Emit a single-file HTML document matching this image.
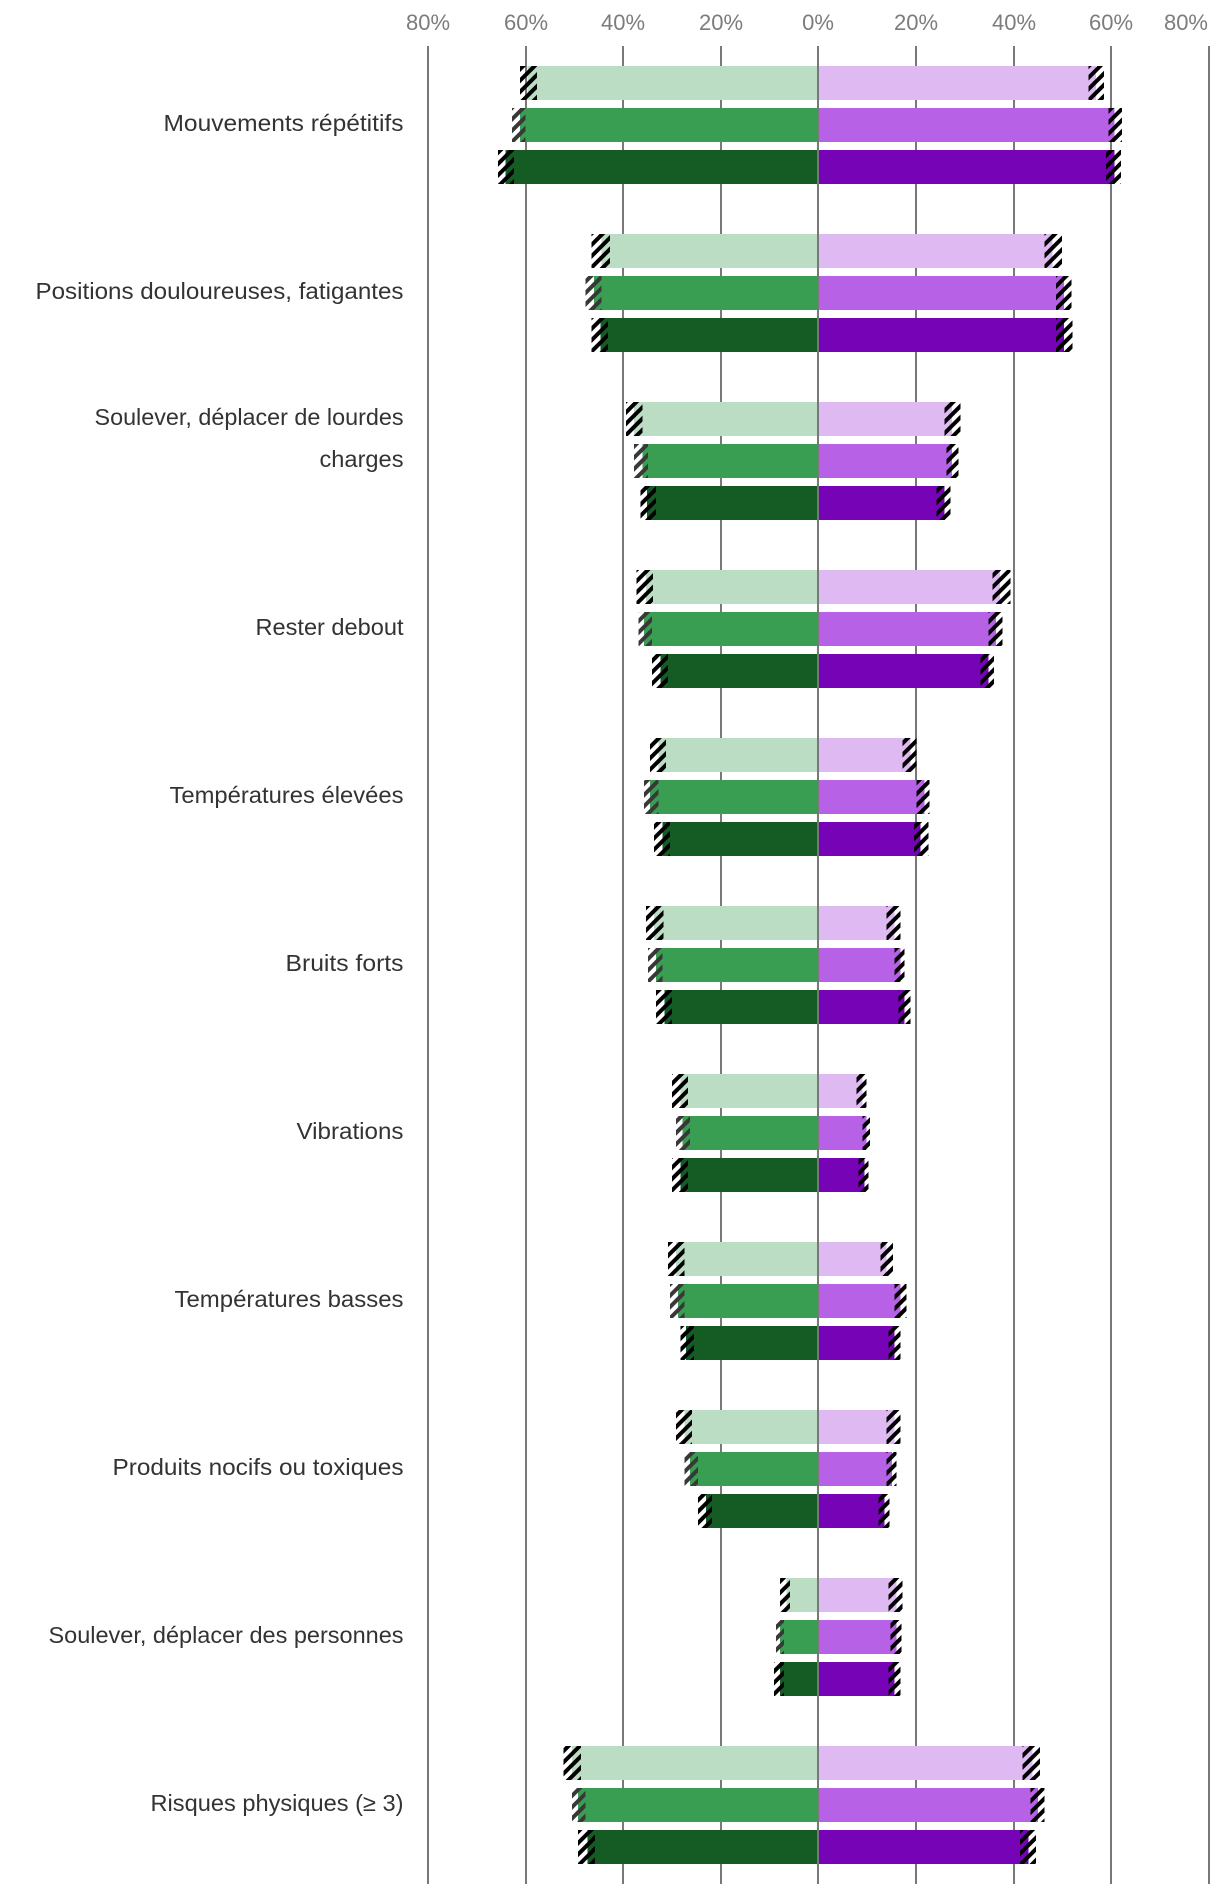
<!DOCTYPE html>
<html lang="fr">
<head>
<meta charset="utf-8">
<title>Risques physiques</title>
<style>
  html, body { margin: 0; padding: 0; background: #fff; }
  #chart { display: block; font-family: "Liberation Sans", sans-serif; }
</style>
</head>
<body>
<svg id="chart" xmlns="http://www.w3.org/2000/svg" width="1220" height="1894" viewBox="0 0 1220 1894">
  <defs>
    <pattern id="hatch-black" patternUnits="userSpaceOnUse" width="8" height="8" patternTransform="rotate(45)">
      <rect x="0" y="0" width="4" height="8" fill="#000" shape-rendering="crispEdges"></rect>
    </pattern>
    <pattern id="hatch-gray" patternUnits="userSpaceOnUse" width="8" height="8" patternTransform="rotate(45)">
      <rect x="0" y="0" width="4" height="8" fill="#383838" shape-rendering="crispEdges"></rect>
    </pattern>
  </defs>
  <g id="grid"></g>
  <g id="ticks"></g>
  <g id="labels"></g>
  <g id="bars"></g>
  <g id="zero"></g>
</svg>
<script>
const categories = [
  ["Mouvements répétitifs"],
  ["Positions douloureuses, fatigantes"],
  ["Soulever, déplacer de lourdes", "charges"],
  ["Rester debout"],
  ["Températures élevées"],
  ["Bruits forts"],
  ["Vibrations"],
  ["Températures basses"],
  ["Produits nocifs ou toxiques"],
  ["Soulever, déplacer des personnes"],
  ["Risques physiques (≥ 3)"]
];
const tickValues = [-80, -60, -40, -20, 0, 20, 40, 60, 80];
const tickLabels = ["80%", "60%", "40%", "20%", "0%", "20%", "40%", "60%", "80%"];

const greenLightVal = [59.6, 44.5, 37.8, 35.3, 32.8, 33.7, 28.3, 29.2, 27.5, 6.6, 50.5];
const greenLightLo  = [57.7, 42.7, 36.1, 33.9, 31.2, 31.8, 26.7, 27.5, 25.9, 5.8, 48.7];
const greenLightHi  = [61.2, 46.5, 39.4, 37.3, 34.5, 35.3, 30.0, 30.8, 29.2, 7.9, 52.2];

const greenMidVal = [61.2, 46.0, 36.1, 35.7, 34.5, 33.3, 27.9, 28.8, 26.3, 7.9, 49.3];
const greenMidLo  = [60.0, 44.5, 34.9, 34.1, 32.8, 32.0, 26.3, 27.5, 24.7, 7.1, 47.7];
const greenMidHi  = [62.8, 47.7, 37.8, 36.9, 35.7, 34.9, 29.2, 30.4, 27.5, 8.7, 50.5];

const greenDarkVal = [64.1, 44.7, 35.1, 32.4, 32.0, 31.6, 28.3, 27.1, 23.0, 7.9, 47.3];
const greenDarkLo  = [62.4, 43.1, 33.3, 30.8, 30.4, 30.0, 26.7, 25.5, 21.8, 7.1, 45.8];
const greenDarkHi  = [65.7, 46.5, 36.5, 34.1, 33.7, 33.3, 30.0, 28.3, 24.7, 9.1, 49.3];

const purpleLightVal = [56.9, 47.9, 27.4, 37.2, 18.8, 15.6, 9.0, 13.9, 15.6, 16.0, 43.8];
const purpleLightLo  = [55.3, 46.3, 25.8, 35.6, 17.2, 13.9, 7.8, 12.7, 13.9, 14.3, 41.8];
const purpleLightHi  = [58.5, 49.9, 29.1, 39.3, 20.1, 16.8, 9.8, 15.3, 16.8, 17.2, 45.4];

const purpleMidVal = [60.6, 50.3, 27.4, 36.4, 21.7, 16.8, 9.8, 16.8, 15.1, 16.0, 45.0];
const purpleMidLo  = [59.4, 48.7, 26.2, 34.8, 20.1, 15.6, 9.0, 15.6, 13.9, 14.7, 43.4];
const purpleMidHi  = [62.2, 51.8, 28.7, 37.7, 22.7, 17.6, 10.6, 18.0, 16.0, 17.0, 46.3];

const purpleDarkVal = [60.6, 50.3, 25.8, 34.8, 20.9, 17.6, 9.4, 15.6, 13.5, 15.6, 43.0];
const purpleDarkLo  = [58.9, 48.7, 24.2, 33.2, 19.6, 16.4, 8.2, 14.3, 12.3, 14.3, 41.3];
const purpleDarkHi  = [62.0, 52.0, 27.0, 36.0, 22.5, 18.8, 10.2, 16.8, 14.5, 16.8, 44.6];

const SVG_NS = "http://www.w3.org/2000/svg";
const zeroX = 818.5;
const pxPerPercent = 4.881;
const firstBarTop = 66;
const groupStep = 168;
const rowStep = 42;
const barHeight = 34;

function xScale(v) { return zeroX + v * pxPerPercent; }
function groupTop(i) { return firstBarTop + i * groupStep; }
function groupCenter(i) { return groupTop(i) + rowStep + barHeight / 2; }

function make(tag, attrs, parent) {
  const el = document.createElementNS(SVG_NS, tag);
  for (const k in attrs) el.setAttribute(k, attrs[k]);
  parent.appendChild(el);
  return el;
}

const gridLayer = document.getElementById("grid");
const tickLayer = document.getElementById("ticks");
const labelLayer = document.getElementById("labels");
const barLayer = document.getElementById("bars");
const zeroLayer = document.getElementById("zero");

tickValues.forEach(function (t, i) {
  const target = t === 0 ? zeroLayer : gridLayer;
  const px = Math.floor(xScale(t) + 0.49);
  const line = make("rect", { x: px - 1, y: 46, width: 2, height: 1838, fill: "#787878", "shape-rendering": "crispEdges" }, target);
  
  

  const last = i === tickValues.length - 1;
  const label = make("text", {
    x: last ? px - 1 : px,
    y: 30,
    "text-anchor": last ? "end" : "middle",
    "font-size": 22,
    fill: "#7c7c7c"
  }, tickLayer);
  
  
  label.textContent = tickLabels[i];
});

(function drawCategoryLabels() {
  const fitWidths = [[240], [368], [309, 84], [148], [234], [118], [107], [229], [291], [355], [253]];
  categories.forEach(function (lines, i) {
    const lineGap = 42;
    const baseY = groupCenter(i) + 6 - (lines.length - 1) * lineGap;
    lines.forEach(function (txt, j) {
      const label = make("text", {
        x: 403.5,
        y: baseY + j * lineGap,
        "text-anchor": "end",
        "font-size": 23.4,
        fill: "#333",
        textLength: fitWidths[i] ? fitWidths[i][j] : 100,
        lengthAdjust: "spacingAndGlyphs"
      }, labelLayer);
      
      
      label.textContent = txt;
    });
  });
})();

const seriesList = [
  { sign: -1, row: 0, color: "#bbddc3", hatch: "hatch-black", val: greenLightVal, lo: greenLightLo, hi: greenLightHi },
  { sign: -1, row: 1, color: "#3a9e52", hatch: "hatch-gray", val: greenMidVal, lo: greenMidLo, hi: greenMidHi },
  { sign: -1, row: 2, color: "#155b24", hatch: "hatch-black", val: greenDarkVal, lo: greenDarkLo, hi: greenDarkHi },
  { sign: 1, row: 0, color: "#dfb9f2", hatch: "hatch-black", val: purpleLightVal, lo: purpleLightLo, hi: purpleLightHi },
  { sign: 1, row: 1, color: "#b762e6", hatch: "hatch-black", val: purpleMidVal, lo: purpleMidLo, hi: purpleMidHi },
  { sign: 1, row: 2, color: "#7603b5", hatch: "hatch-black", val: purpleDarkVal, lo: purpleDarkLo, hi: purpleDarkHi }
];

seriesList.forEach(function (s) {
  s.val.forEach(function (v, i) {
    const y = groupTop(i) + s.row * rowStep;
    const xv = xScale(s.sign * v);
    const bar = make("rect", {
      x: Math.min(xv, zeroX),
      y: y,
      width: Math.abs(xv - zeroX),
      height: barHeight,
      fill: s.color,
      "shape-rendering": "crispEdges"
    }, barLayer);
    
    

    const xa = xScale(s.sign * s.lo[i]);
    const xb = xScale(s.sign * s.hi[i]);
    const range = make("rect", {
      x: Math.min(xa, xb),
      y: 0,
      width: Math.abs(xb - xa),
      height: barHeight,
      transform: "translate(0," + y + ")",
      fill: "url(#" + s.hatch + ")",
      "shape-rendering": "crispEdges"
    }, barLayer);
    
    
  });
});
</script>
</body>
</html>
